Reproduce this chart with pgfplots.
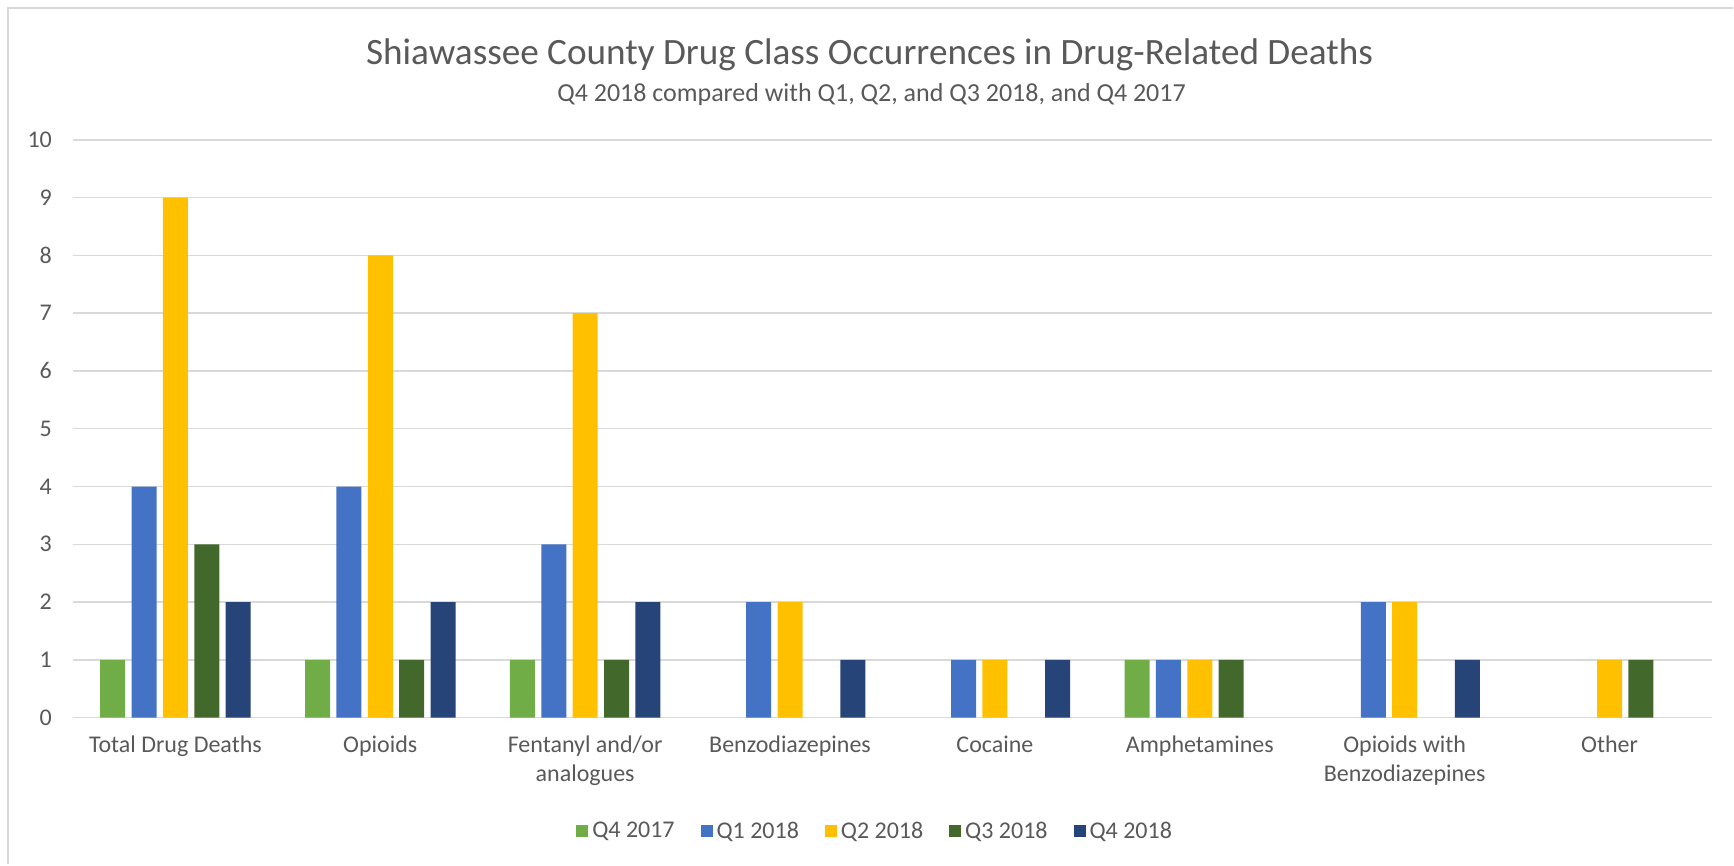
\documentclass[border=0pt]{standalone}
\usepackage{fontspec}
\setmainfont{Carlito}
\usepackage{pgfplots}
\pgfplotsset{compat=1.18}

\definecolor{txt}{HTML}{595959}
\definecolor{gridc}{HTML}{D9D9D9}
\definecolor{cA}{HTML}{70AD47}
\definecolor{cB}{HTML}{4472C4}
\definecolor{cC}{HTML}{FFC000}
\definecolor{cD}{HTML}{43682B}
\definecolor{cE}{HTML}{264478}

\begin{document}
\begin{tikzpicture}
\begin{axis}[
    at={(0,0)}, anchor=south west,
    scale only axis,
    width=820pt, height=289pt,
    ybar=3.2pt, bar width=12.5pt,
    xmin=-0.5, xmax=7.5,
    ymin=0, ymax=10,
    ytick={0,1,...,10},
    xtick={0,...,7},
    xticklabels={Total Drug Deaths, Opioids, {Fentanyl and/or\\analogues}, Benzodiazepines, Cocaine, Amphetamines, {Opioids with\\Benzodiazepines}, Other},
    xticklabel style={align=center, font=\fontsize{12}{14.5}\selectfont, text=txt, yshift=-5.5pt},
    yticklabel style={font=\fontsize{12}{14}\selectfont, text=txt, xshift=-7pt},
    /pgf/number format/assume math mode=true,
    major tick length=0pt,
    axis line style={draw=none},
    ymajorgrids,
    major grid style={draw=gridc, line width=0.75pt},
    legend columns=5,
    legend style={at={(0.49,-0.197)}, anchor=center, draw=none,
        font=\fontsize{12}{14}\selectfont, text=txt,
        /tikz/every even column/.append style={column sep=11pt}},
    legend image code/.code={\fill[#1] (-2pt,-3pt) rectangle (4pt,3pt);},
    every axis plot/.append style={draw=none},
    unbounded coords=discard,
    y filter/.expression={y==0 ? nan : y},
]
\addplot[fill=cA] coordinates {(0,1) (1,1) (2,1) (3,0) (4,0) (5,1) (6,0) (7,0)};
\addplot[fill=cB] coordinates {(0,4) (1,4) (2,3) (3,2) (4,1) (5,1) (6,2) (7,0)};
\addplot[fill=cC] coordinates {(0,9) (1,8) (2,7) (3,2) (4,1) (5,1) (6,2) (7,1)};
\addplot[fill=cD] coordinates {(0,3) (1,1) (2,1) (3,0) (4,0) (5,1) (6,0) (7,1)};
\addplot[fill=cE] coordinates {(0,2) (1,2) (2,2) (3,1) (4,1) (5,0) (6,1) (7,0)};
\legend{Q4 2017, Q1 2018, Q2 2018, Q3 2018, Q4 2018}
\end{axis}
\node[text=txt, font=\fontsize{18.6}{22}\selectfont] at (398.5pt,331.5pt) {Shiawassee County Drug Class Occurrences in Drug-Related Deaths};
\node[text=txt, font=\fontsize{13}{15}\selectfont] at (399.5pt,311.5pt) {Q4 2018 compared with Q1, Q2, and Q3 2018, and Q4 2017};
\draw[gridc, line width=1pt] (-32.25pt,-73.5pt) -- (-32.25pt,355pt) -- (830.5pt,355pt);
\path[use as bounding box] (-36.5pt,-73.5pt) rectangle (830.5pt,359pt);
\end{tikzpicture}
\end{document}
